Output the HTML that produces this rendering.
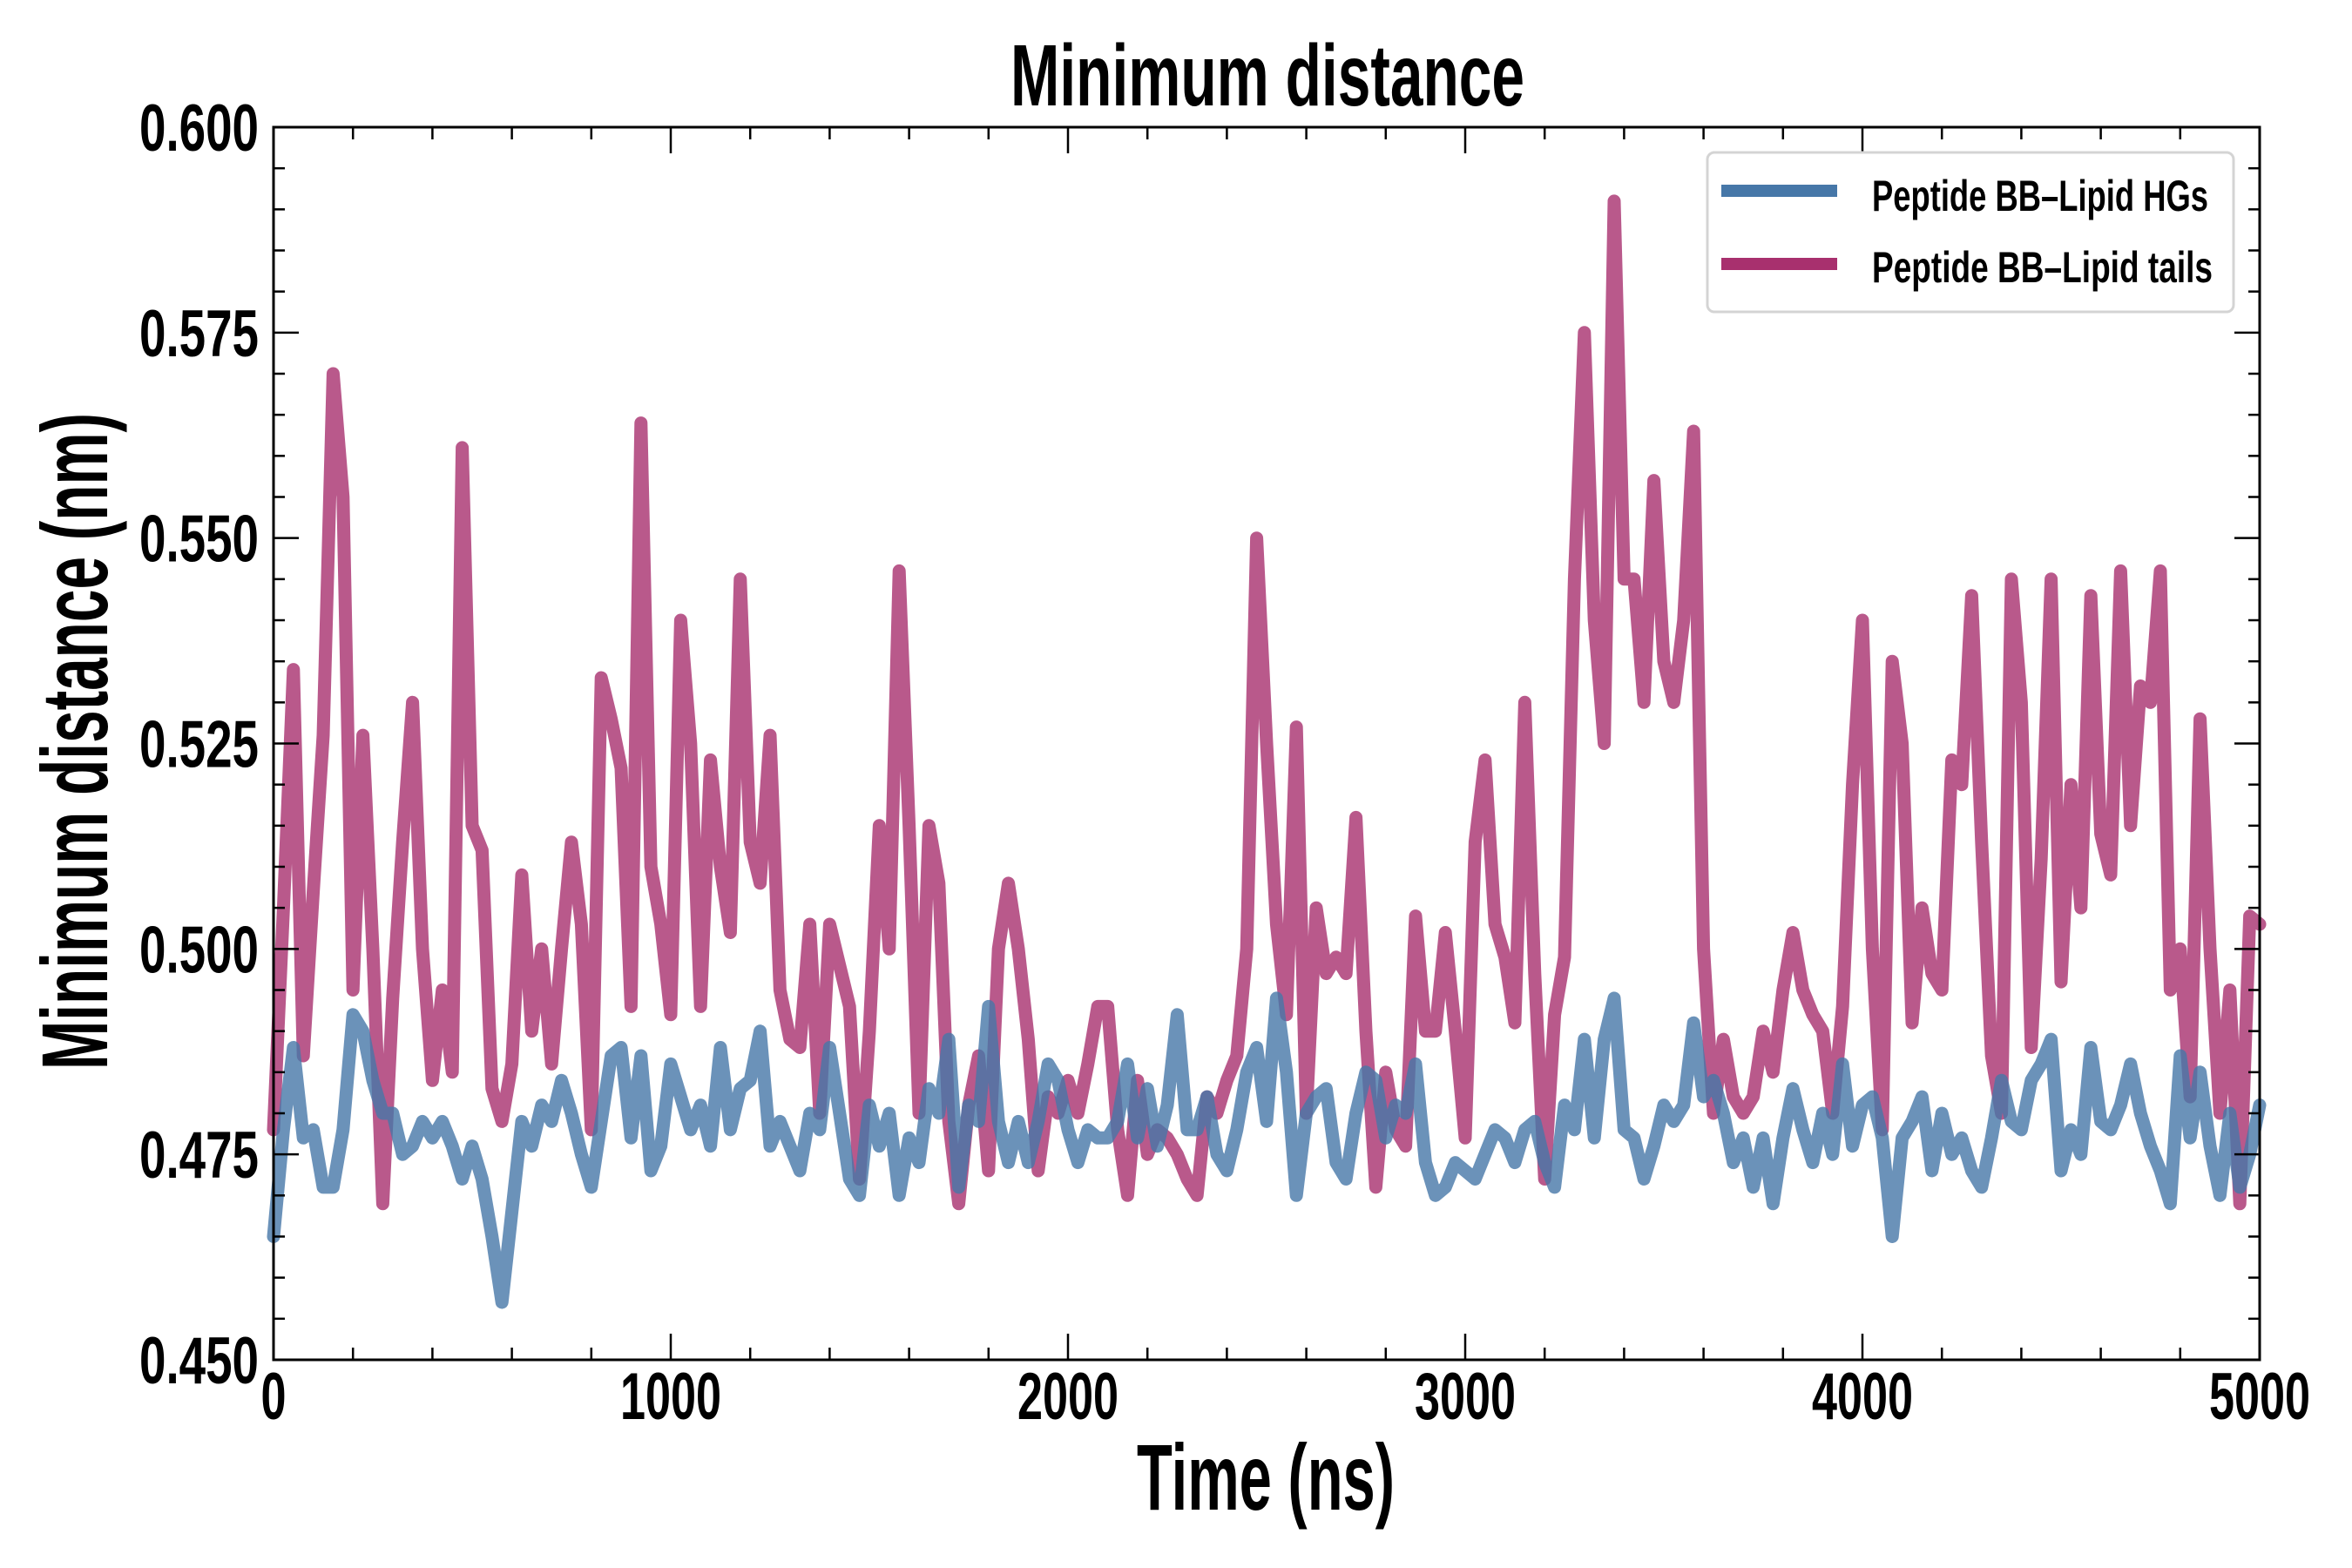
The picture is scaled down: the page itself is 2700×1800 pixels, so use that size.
<!DOCTYPE html>
<html><head><meta charset="utf-8">
<style>
html,body{margin:0;padding:0;background:#fff;}
svg{display:block;}
text{font-family:"Liberation Sans Narrow","Liberation Sans",sans-serif;font-weight:bold;fill:#000;}
</style></head>
<body>
<svg id="chart" width="2700" height="1800" viewBox="0 0 2700 1800" xmlns="http://www.w3.org/2000/svg">
<rect x="0" y="0" width="2700" height="1800" fill="#fff"/>
<text x="1455" y="121" font-size="100" text-anchor="middle" textLength="590" lengthAdjust="spacingAndGlyphs">Minimum distance</text>
<g id="series"></g>
<g id="axes"></g>
<text x="1453" y="1733" font-size="108" text-anchor="middle" textLength="296" lengthAdjust="spacingAndGlyphs">Time (ns)</text>
<text x="0" y="0" font-size="108" text-anchor="middle" textLength="754" lengthAdjust="spacingAndGlyphs" transform="translate(123,851) rotate(-90)">Minimum distance (nm)</text>
<g>
<rect x="1960" y="175" width="604" height="183" rx="8" fill="#fff" fill-opacity="0.8" stroke="#d4d4d4" stroke-width="3"/>
<line x1="1976" y1="219" x2="2109" y2="219" stroke="#4677a8" stroke-width="14"/>
<text x="2149" y="242" font-size="50" textLength="386" lengthAdjust="spacingAndGlyphs">Peptide BB–Lipid HGs</text>
<line x1="1976" y1="303" x2="2109" y2="303" stroke="#a8306e" stroke-width="14"/>
<text x="2149" y="324" font-size="50" textLength="391" lengthAdjust="spacingAndGlyphs">Peptide BB–Lipid tails</text>
</g>
</svg>
<script>
const DT = 25;
const tailsValues = [
.478,.505,.534,.487,.507,.526,.570,.555,.495,.526,.500,.469,.494,.513,.530,.500,.484,.495,.485,.561,
.515,.512,.483,.479,.486,.509,.490,.500,.486,.500,.513,.503,.478,.533,.528,.522,.493,.564,.510,.503,
.492,.540,.525,.493,.523,.510,.502,.545,.513,.508,.526,.495,.489,
.488,.503,.480,.503,.498,.493,.472,.490,.515,.500,.546,.515,.480,.515,.508,.479,.469,.481,.487,.473,
.500,.508,.500,.489,.473,.482,.480,.484,.480,.486,.493,.493,.478,.470,.484,.475,.478,.477,.475,.472,
.470,.482,.480,.484,.487,.500,.550,.525,.503,.492,.527,
.480,.505,.497,.499,.497,.516,.490,.471,.485,.478,.476,.504,.490,.490,.502,.490,.477,.513,.523,.503,
.499,.491,.530,.497,.472,.492,.499,.545,.575,.540,.525,.591,.545,.545,.530,.557,.535,.530,.540,.563,
.500,.480,.489,.482,.480,.482,.490,.485,.495,.502,.495,
.492,.490,.480,.493,.520,.540,.500,.478,.535,.525,.491,.505,.497,.495,.523,.520,.543,.513,.487,.480,
.545,.530,.488,.511,.545,.496,.520,.505,.543,.514,.509,.546,.515,.532,.530,.546,.495,.500,.482,.528,
.500,.480,.495,.469,.504,.503
];
const hgValues = [
.465,.478,.488,.477,.478,.471,.471,.478,.492,.490,.484,.480,.480,.475,.476,.479,.477,.479,.476,.472,
.476,.472,.465,.457,.468,.479,.476,.481,.479,.484,.480,.475,.471,.479,.487,.488,.477,.487,.473,.476,
.486,.482,.478,.481,.476,.488,.478,.483,.484,.490,.476,.479,.476,
.473,.480,.478,.488,.480,.472,.470,.481,.476,.480,.470,.477,.474,.483,.480,.489,.471,.481,.479,.493,
.479,.474,.479,.474,.479,.486,.484,.478,.474,.478,.477,.477,.479,.486,.477,.483,.476,.481,.492,.478,
.478,.482,.475,.473,.478,.485,.488,.479,.494,.485,.470,
.480,.482,.483,.474,.472,.480,.485,.484,.477,.481,.480,.486,.474,.470,.471,.474,.473,.472,.475,.478,
.477,.474,.478,.479,.474,.471,.481,.478,.489,.477,.489,.494,.478,.477,.472,.476,.481,.479,.481,.491,
.482,.484,.480,.474,.477,.471,.477,.469,.477,.483,.478,
.474,.480,.475,.486,.476,.481,.482,.477,.465,.477,.479,.482,.473,.480,.475,.477,.473,.471,.477,.484,
.479,.478,.484,.486,.489,.473,.478,.475,.488,.479,.478,.481,.486,.480,.476,.473,.469,.487,.477,.485,
.476,.470,.480,.471,.475,.481
];
const xTickLabels = ["0","1000","2000","3000","4000","5000"];
const yTickLabels = ["0.450","0.475","0.500","0.525","0.550","0.575","0.600"];

const L=314,R=2594,T=146,B=1561;
const X0=0,X1=5000,Y0=0.45,Y1=0.60;
function xs(t){return L+(t-X0)/(X1-X0)*(R-L);}
function ys(v){return B-(v-Y0)/(Y1-Y0)*(B-T);}
const NS="http://www.w3.org/2000/svg";
const series=document.getElementById('series');
const axes=document.getElementById('axes');

function drawLine(vals,color,name){
  let d="";
  vals.forEach((v,i)=>{d+=(i?"L":"M")+xs(i*DT).toFixed(1)+","+ys(v).toFixed(1);});
  const p=document.createElementNS(NS,'path');
  p.setAttribute('d',d);
  p.setAttribute('fill','none');
  p.setAttribute('stroke',color);
  p.setAttribute('stroke-opacity','0.8');
  p.setAttribute('stroke-width','15');
  p.setAttribute('stroke-linejoin','round');
  p.setAttribute('stroke-linecap','round');
  
  
  series.appendChild(p);
}
drawLine(tailsValues,'#a8306e','series-lipid-tails');
drawLine(hgValues,'#4677a8','series-lipid-hgs');

function ln(x1,y1,x2,y2,w,name){
  const l=document.createElementNS(NS,'line');
  l.setAttribute('x1',x1);l.setAttribute('y1',y1);l.setAttribute('x2',x2);l.setAttribute('y2',y2);
  l.setAttribute('stroke','#000');l.setAttribute('stroke-width',w);
  
  
  axes.appendChild(l);
}
const fr=document.createElementNS(NS,'rect');
fr.setAttribute('x',L);fr.setAttribute('y',T);fr.setAttribute('width',R-L);fr.setAttribute('height',B-T);
fr.setAttribute('fill','none');fr.setAttribute('stroke','#000');fr.setAttribute('stroke-width','3');


axes.appendChild(fr);
for(let t=0;t<=5000;t+=200){
  const x=xs(t); const major=t%1000===0; const len=major?30:14;
  ln(x,B,x,B-len,2.5,'x-tick');
  ln(x,T,x,T+len,2.5,'x-tick-top');
}
for(let k=0;k<=30;k++){
  const v=Y0+k*0.005; const y=ys(v); const major=k%5===0; const len=major?29:13;
  ln(L,y,L+len,y,2.5,'y-tick');
  ln(R,y,R-len,y,2.5,'y-tick-right');
}
xTickLabels.forEach((s,i)=>{
  const tx=document.createElementNS(NS,'text');
  tx.setAttribute('x',xs(Number(s)));tx.setAttribute('y',1629);
  tx.setAttribute('font-size','76');tx.setAttribute('text-anchor','middle');
  tx.setAttribute('textLength',String(s.length*29));tx.setAttribute('lengthAdjust','spacingAndGlyphs');
  
  
  tx.textContent=s; axes.appendChild(tx);
});
yTickLabels.forEach((s,i)=>{
  const tx=document.createElementNS(NS,'text');
  tx.setAttribute('x',297);tx.setAttribute('y',ys(Number(s))+27);
  tx.setAttribute('font-size','76');tx.setAttribute('text-anchor','end');
  tx.setAttribute('textLength','137');tx.setAttribute('lengthAdjust','spacingAndGlyphs');
  
  
  tx.textContent=s; axes.appendChild(tx);
});
</script>
</body></html>
